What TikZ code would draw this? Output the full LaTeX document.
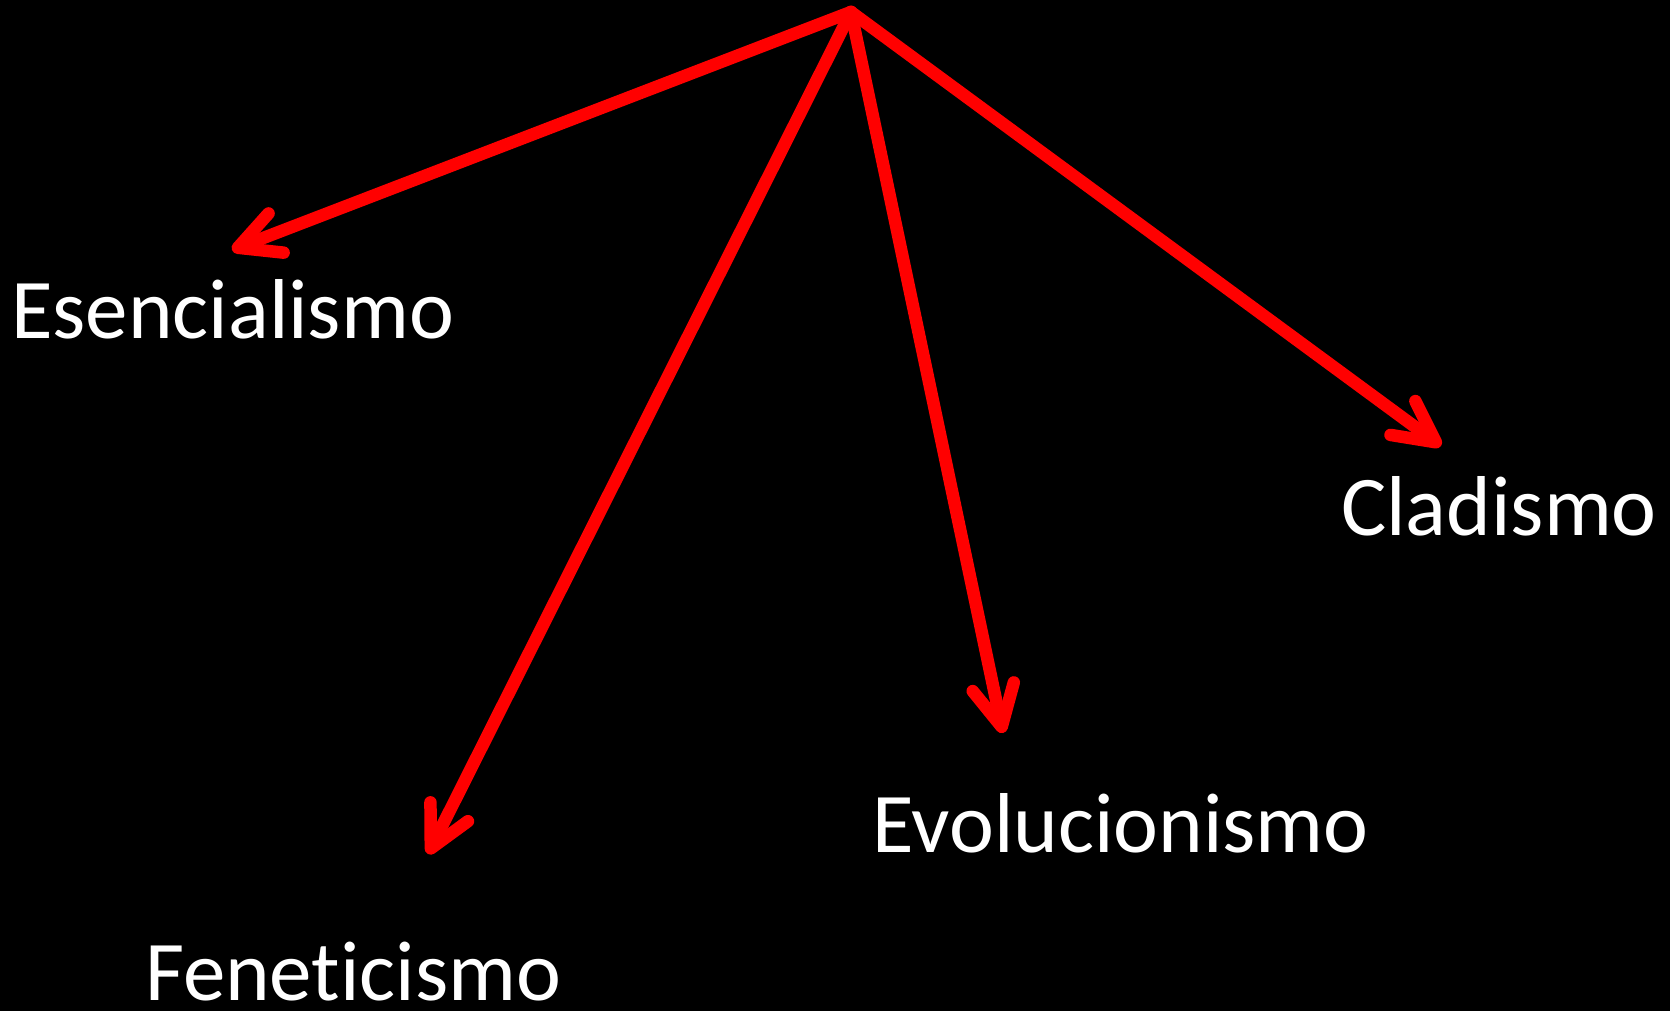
\documentclass[tikz,border=0pt]{standalone}
\usepackage{fontspec}
\setmainfont{Carlito}[Ligatures=NoCommon]
\usetikzlibrary{arrows.meta}
\begin{document}
\begin{tikzpicture}[x=1pt,y=-1pt,
  conn/.style={draw={rgb,255:red,255;green,0;blue,0}, line width=12.5pt, line cap=round, line join=round,
    -{Straight Barb[length=41pt,width=42pt,line cap=round,line join=round]}},
  lbl/.style={text=white, font=\fontsize{85}{96}\selectfont, inner sep=0pt, anchor=base west}]
\fill[black] (0,0) rectangle (1670,1011);
\useasboundingbox (0,0) rectangle (1670,1011);
\coordinate (top) at (851,12);
\coordinate (tE) at (232,250);
\coordinate (tC) at (1441,446);
\coordinate (tV) at (1003,733);
\coordinate (tF) at (428,854);
\node[lbl] (esen) at (11,338) {Esencialismo};
\node[lbl] (fene) at (145,1000) {Feneticismo};
\node[lbl] (clad) at (1341,535) {Cladismo};
\node[lbl] (evol) at (872,852) {Evolucionismo};
\draw[conn] (top) -- (tE);
\draw[conn] (top) -- (tF);
\draw[conn] (top) -- (tV);
\draw[conn] (top) -- (tC);
\end{tikzpicture}
\end{document}
